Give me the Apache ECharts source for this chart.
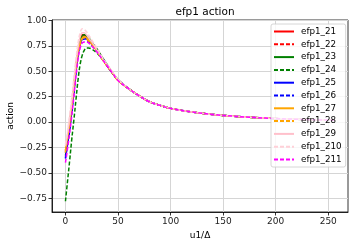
<!DOCTYPE html>
<html><head><meta charset="utf-8">
<script src="https://cdn.jsdelivr.net/npm/echarts@6/dist/echarts.min.js"></script>
<style>html,body{margin:0;padding:0;background:#fff}#c{width:354px;height:247px}</style>
</head><body><div id="c"></div>
<script>
const xs = [0,2,4,6,8,10,12,14,16,18,20,22,25,30,35,40,45,50,60,70,80,90,100,120,140,160,180,200,220,240,256];
const names = ['efp1_21','efp1_22','efp1_23','efp1_24','efp1_25','efp1_26','efp1_27','efp1_28','efp1_29','efp1_210','efp1_211'];
const efp1_21  = [-0.30,-0.17,-0.02,0.15,0.35,0.55,0.71,0.81,0.86,0.86,0.84,0.82,0.78,0.71,0.63,0.55,0.48,0.415,0.33,0.26,0.20,0.165,0.135,0.10,0.075,0.058,0.045,0.035,0.028,0.022,0.018];
const efp1_22  = [-0.28,-0.15,0.00,0.16,0.35,0.54,0.70,0.79,0.84,0.85,0.84,0.82,0.78,0.71,0.63,0.55,0.48,0.415,0.33,0.26,0.20,0.165,0.135,0.10,0.075,0.058,0.045,0.035,0.028,0.022,0.018];
const efp1_23  = [-0.33,-0.20,-0.05,0.12,0.32,0.52,0.69,0.80,0.85,0.86,0.85,0.83,0.79,0.72,0.64,0.56,0.48,0.42,0.33,0.26,0.20,0.165,0.135,0.10,0.075,0.058,0.045,0.035,0.028,0.022,0.018];
const efp1_24  = [-0.78,-0.58,-0.38,-0.17,0.02,0.22,0.42,0.57,0.66,0.71,0.73,0.73,0.72,0.68,0.62,0.55,0.48,0.415,0.33,0.26,0.20,0.165,0.135,0.10,0.075,0.058,0.045,0.035,0.028,0.022,0.018];
const efp1_25  = [-0.35,-0.21,-0.06,0.11,0.30,0.50,0.67,0.77,0.82,0.83,0.82,0.80,0.77,0.70,0.63,0.55,0.48,0.415,0.33,0.26,0.20,0.165,0.135,0.10,0.075,0.058,0.045,0.035,0.028,0.022,0.018];
const efp1_26  = [-0.36,-0.22,-0.07,0.10,0.29,0.49,0.66,0.76,0.81,0.82,0.81,0.79,0.76,0.70,0.63,0.55,0.48,0.415,0.33,0.26,0.20,0.165,0.135,0.10,0.075,0.058,0.045,0.035,0.028,0.022,0.018];
const efp1_27  = [-0.28,-0.15,0.00,0.16,0.35,0.54,0.69,0.78,0.83,0.84,0.83,0.81,0.77,0.70,0.62,0.55,0.48,0.41,0.33,0.26,0.20,0.165,0.135,0.10,0.075,0.058,0.045,0.035,0.028,0.022,0.018];
const efp1_28  = [-0.30,-0.16,-0.01,0.15,0.34,0.53,0.68,0.77,0.82,0.83,0.82,0.80,0.77,0.70,0.62,0.55,0.48,0.41,0.33,0.26,0.20,0.165,0.135,0.10,0.075,0.058,0.045,0.035,0.028,0.022,0.018];
const efp1_29  = [-0.24,-0.11,0.04,0.20,0.39,0.58,0.74,0.84,0.88,0.88,0.86,0.83,0.79,0.71,0.63,0.56,0.49,0.42,0.33,0.26,0.20,0.165,0.135,0.10,0.075,0.058,0.045,0.035,0.028,0.022,0.018];
const efp1_210 = [-0.22,-0.09,0.07,0.24,0.43,0.62,0.78,0.88,0.92,0.91,0.89,0.86,0.81,0.73,0.64,0.56,0.49,0.42,0.33,0.26,0.20,0.165,0.135,0.10,0.075,0.058,0.045,0.035,0.028,0.022,0.018];
const efp1_211 = [-0.40,-0.26,-0.11,0.06,0.25,0.45,0.62,0.73,0.78,0.79,0.79,0.78,0.75,0.69,0.62,0.55,0.48,0.41,0.33,0.26,0.20,0.165,0.135,0.10,0.075,0.058,0.045,0.035,0.028,0.022,0.018];
const xTicks = [0,50,100,150,200,250];
const yTicks = [-0.75,-0.5,-0.25,0,0.25,0.5,0.75,1.0];
const title = 'efp1 action';
const xLabel = 'u1/Δ';
const yLabel = 'action';

const allData = [efp1_21,efp1_22,efp1_23,efp1_24,efp1_25,efp1_26,efp1_27,efp1_28,efp1_29,efp1_210,efp1_211];
const colors = ['#ff0000','#ff0000','#008000','#008000','#0000ff','#0000ff','#ffa500','#ffa500','#ffc0cb','#ffd0d8','#ff00ff'];
const dashed = [false,true,false,true,false,true,false,true,false,true,true];
const FONT = 'DejaVu Sans';

const series = names.map((n,i)=>({
  name:n, type:'line', smooth:0.4, symbol:'none', showSymbol:false,
  data: xs.map((x,j)=>[x, allData[i][j]]),
  lineStyle:{color:colors[i], width:1.5, type: dashed[i]?[4,2]:'solid'},
  itemStyle:{color:colors[i]},
  emphasis:{disabled:true}, animation:false
}));

const chart = echarts.init(document.getElementById('c'), null, {renderer:'canvas'});
chart.setOption({
  animation:false,
  backgroundColor:'#fff',
  title:{text:title, left:200, top:2, textAlign:'center',
    textStyle:{fontFamily:FONT, fontSize:10.5, fontWeight:'normal', color:'#000'}},
  grid:{left:52, right:6, top:20, bottom:35, show:true, borderColor:'#000', borderWidth:0.8, backgroundColor:'transparent',
    outerBoundsMode:'none', containLabel:false},
  legend:{orient:'vertical', left:271, top:24, itemWidth:20, itemHeight:10, itemGap:3.8,
    padding:[3,4,3,2], backgroundColor:'rgba(255,255,255,0.8)', borderColor:'#cccccc', borderWidth:0.8, borderRadius:2,
    itemStyle:{opacity:0, borderWidth:0},
    textStyle:{fontFamily:FONT, fontSize:8.75, color:'#000', padding:[0,0,0,2]}, data:names},
  xAxis:{type:'value', min:-12.8, max:268.8,
    name:xLabel, nameLocation:'middle', nameGap:19, nameMoveOverlap:false, nameTextStyle:{fontFamily:FONT, fontSize:9, color:'#000'},
    axisLine:{onZero:false, lineStyle:{color:'#000', width:0.8}},
    axisTick:{show:true, length:3.5, inside:false, lineStyle:{color:'#000', width:0.8}, customValues:xTicks},
    axisLabel:{fontFamily:FONT, fontSize:9, color:'#222', margin:5, customValues:xTicks, formatter:v=>String(v)},
    splitLine:{show:true, lineStyle:{color:'#d5d5d5', width:1}}},
  yAxis:{type:'value', min:-0.886, max:1.006,
    name:yLabel, nameLocation:'middle', nameGap:37, nameRotate:90, nameMoveOverlap:false, nameTextStyle:{fontFamily:FONT, fontSize:9, color:'#000'},
    axisLine:{onZero:false, lineStyle:{color:'#000', width:0.8}},
    axisTick:{show:true, length:3.5, inside:false, lineStyle:{color:'#000', width:0.8}, customValues:yTicks},
    axisLabel:{fontFamily:FONT, fontSize:9, color:'#222', margin:5, customValues:yTicks, formatter:v=>v.toFixed(2).replace('-','\u2212')},
    splitLine:{show:true, lineStyle:{color:'#d5d5d5', width:1}}},
  series:series
});
</script></body></html>
